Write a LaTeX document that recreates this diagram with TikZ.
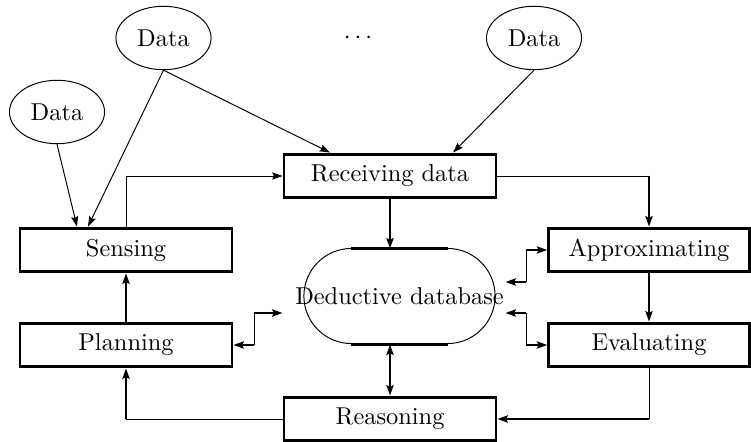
\documentclass[tikz,border=0pt]{standalone}
\usepackage{tikz}
\usetikzlibrary{calc,positioning,shapes.geometric,arrows.meta}

\begin{document}
\begin{tikzpicture}[x=0.41pt,y=-0.41pt,
  >={Stealth[length=4.2pt,width=2.9pt,inset=0.6pt]},
  box/.style={draw,line width=1.2pt,minimum width=86.9pt,minimum height=18pt,inner sep=0pt},
  src/.style={draw,ellipse,line width=0.4pt,minimum width=39pt,minimum height=26pt,inner sep=0pt},
  thn/.style={line width=0.4pt},
  thk/.style={line width=1.2pt}]
\useasboundingbox (0,0) rectangle (751,442);

% sources
\node[src] (data1) at (57,112)   {Data};
\node[src] (data2) at (163.5,38) {Data};
\node      (dots)  at (358,38)   {$\cdots$};
\node[src] (data3) at (534,38)   {Data};

% boxes
\node[box] (recv) at (390,176) {Receiving data};
\node[box] (sens) at (126,250) {Sensing};
\node[box] (plan) at (126,345) {Planning};
\node[box,minimum width=82.2pt] (appr) at (649,250) {Approximating};
\node[box,minimum width=82.2pt] (eval) at (649,345) {Evaluating};
\node[box] (reas) at (390,419) {Reasoning};

% database
\node[minimum width=87.3pt,minimum height=39pt,inner sep=0pt] (db) at (399.5,296.5) {Deductive database};
\draw[thn] ($(db.north west)+(58.9,0)$) arc[start angle=90,end angle=270,radius=19.5pt];
\draw[thn] ($(db.north east)+(-58.9,0)$) arc[start angle=90,end angle=-90,radius=19.5pt];
\draw[thk] ($(db.north west)+(58.9,0)$) -- ($(db.north east)+(-58.9,0)$);
\draw[thk] ($(db.south west)+(58.9,0)$) -- ($(db.south east)+(-58.9,0)$);

% data in
\draw[thn,->] (data1.south) -- ($(sens.north)+(-49,0)$);
\draw[thn,->] (data2.south) -- ($(sens.north)+(-38,0)$);
\draw[thn,->] (data2.south) -- ($(recv.north)+(-60,0)$);
\draw[thn,->] (data3.south) -- ($(recv.north)+(63,0)$);

% main loop
\draw[thn,->] (sens.north) |- (recv.west);
\draw[thk,->] (recv.south) -- (recv.south |- db.north);
\coordinate (ra) at (recv.east -| appr.north);
\draw[thn] (recv.east) -- (ra);
\draw[thk,->] (ra) -- (appr.north);
\draw[thk,->] (appr.south) -- (eval.north);
\coordinate (er) at (eval.south |- reas.east);
\draw[thn] (eval.south) -- (er);
\draw[thk,->] (er) -- (reas.east);
\coordinate (rp) at (reas.west -| plan.south);
\draw[thn] (reas.west) -- (rp);
\draw[thk,->] (rp) -- (plan.south);
\draw[thk,->] (plan.north) -- (sens.south);
\draw[thk,<->] (reas.north) -- (reas.north |- db.south);

% links to the database
\coordinate (dbl)  at ($(db.west)+(-10,16.5)$);
\coordinate (pl1)  at ($(plan.east)+(21,0)$);
\draw[thk,<-] (plan.east) -- (pl1);
\draw[thn] (pl1) -- (pl1 |- dbl);
\draw[thk,->] (pl1 |- dbl) -- (dbl);

\coordinate (dbr1) at ($(db.east)+(-1,-14.5)$);
\coordinate (ap1)  at ($(appr.west)+(-21,0)$);
\draw[thk,->] (ap1) -- (appr.west);
\draw[thn] (ap1) -- (ap1 |- dbr1);
\draw[thk,->] (ap1 |- dbr1) -- (dbr1);

\coordinate (dbr2) at ($(db.east)+(-1,16.5)$);
\coordinate (ev1)  at ($(eval.west)+(-21,0)$);
\draw[thk,<-] (dbr2) -- (ev1 |- dbr2);
\draw[thn] (ev1 |- dbr2) -- (ev1);
\draw[thk,->] (ev1) -- (eval.west);
\end{tikzpicture}
\end{document}
